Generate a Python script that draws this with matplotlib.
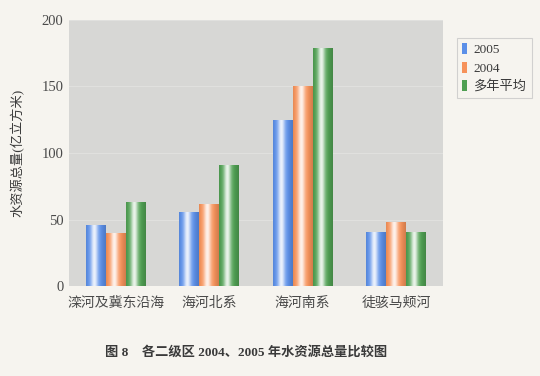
import numpy as np
import matplotlib.pyplot as plt
from matplotlib.colors import to_rgb

# 数据
regions = ['滦河及冀东沿海', '海河北系', '海河南系', '徒骇马颊河']
v2005 = [46, 56, 125, 41]
v2004 = [40, 62, 150, 48]
avg = [63, 91, 179, 41]
series = ['2005', '2004', '多年平均']

plt.rcParams['font.family'] = ['Liberation Serif', 'Noto Sans CJK SC']

bg = '#f6f4ef'
fig = plt.figure(figsize=(5.4, 3.76), dpi=100, facecolor=bg)
ax = fig.add_axes([0.128, 0.239, 0.692, 0.708])
ax.set_facecolor('#d7d7d5')

x = np.arange(len(regions))
w = 0.214
colors = ['#5b8fe8', '#f6925a', '#4f9f52']


def shade(bars, color):
    # 圆柱状的渐变效果
    c = np.array(to_rgb(color))
    t = np.linspace(0, 1, 64)
    hl = 0.88 * np.exp(-((t - 0.42) / 0.19) ** 2)
    dark = 0.15 * np.clip(np.abs(t - 0.42) - 0.3, 0, None) / 0.28
    rgb = c[None, :] * (1 - hl[:, None]) + hl[:, None]
    rgb = rgb * (1 - dark[:, None])
    img = rgb[None, :, :]
    for b in bars:
        x0, y0 = b.get_x(), b.get_y()
        im = ax.imshow(img, extent=(x0, x0 + b.get_width(), y0, y0 + b.get_height()),
                       aspect='auto', zorder=3, interpolation='bilinear')
        im.set_clip_path(b)


handles = []
for i, (vals, col) in enumerate(zip([v2005, v2004, avg], colors)):
    bars = ax.bar(x + (i - 1) * w, vals, w, color=col, zorder=2, label=series[i])
    shade(bars, col)
    handles.append(bars)

ax.set_xlim(-0.5, 3.5)
ax.set_ylim(0, 200)
ax.set_yticks([0, 50, 100, 150, 200])
ax.yaxis.grid(True, color='#e0e0de', linewidth=0.8, zorder=0)
ax.set_axisbelow(True)
for s in ax.spines.values():
    s.set_visible(False)
ax.tick_params(length=0, labelsize=10.5, colors='#4a4a4a', pad=4)
ax.set_xticks(x)
ax.set_xticklabels(regions, fontsize=10, color='#4a4a4a', family=['Noto Sans CJK SC'])
ax.tick_params(axis='x', pad=7)
ax.set_ylabel('水资源总量(亿立方米)', fontsize=9.5, color='#3a3a3a', labelpad=12)

leg = fig.legend(handles=handles, loc='upper left', bbox_to_anchor=(0.846, 0.899),
                 borderaxespad=0, fontsize=9.5, frameon=True, handlelength=0.35,
                 handleheight=0.9, handletextpad=0.5, borderpad=0.4,
                 labelspacing=0.4, fancybox=False)
leg.get_frame().set_edgecolor('#c8c8c8')
leg.get_frame().set_facecolor(bg)
leg.get_frame().set_linewidth(0.8)
for t in leg.get_texts():
    t.set_color('#3a3a3a')

fig.text(0.455, 0.063, '图 8    各二级区 2004、2005 年水资源总量比较图', ha='center',
         va='center', fontsize=9.5, fontweight='bold', color='#3a3a3a')

fig.savefig('out.png', dpi=100, facecolor=bg)
